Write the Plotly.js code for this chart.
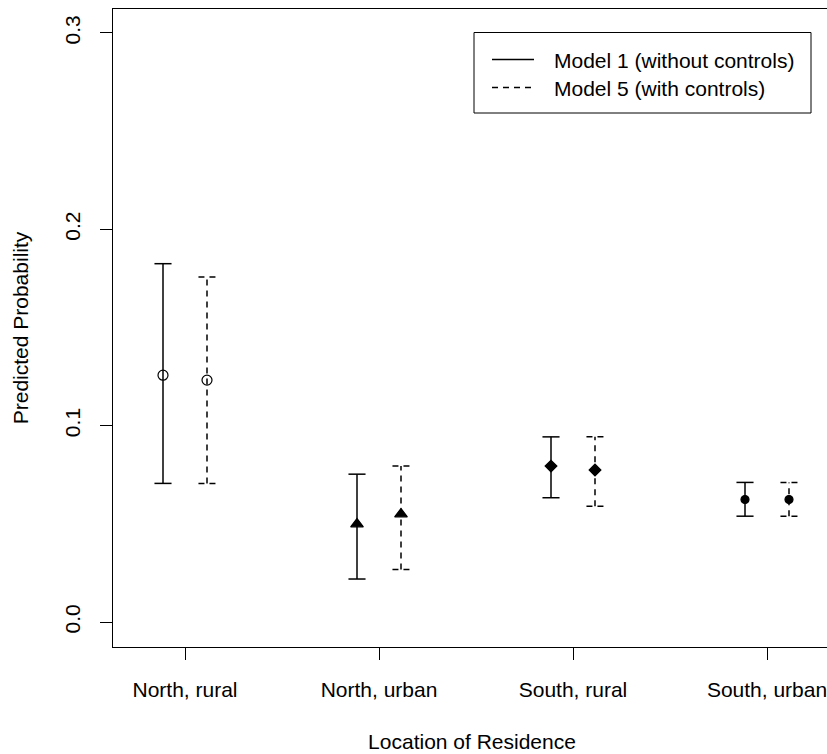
<!DOCTYPE html>
<html>
<head>
<meta charset="utf-8">
<script src="https://cdn.plot.ly/plotly-3.0.1.min.js"></script>
<style>
html, body { margin: 0; padding: 0; overflow: hidden; background: #fff; }
#chart { width: 840px; height: 754px; }
</style>
</head>
<body>
<div id="chart"></div>
<script>
// ---- data ----
var categories = ["North, rural", "North, urban", "South, rural", "South, urban"];
var model1Est   = [0.1257, 0.0499, 0.0794, 0.0624];
var model1Lower = [0.0706, 0.0219, 0.0633, 0.0539];
var model1Upper = [0.1825, 0.0753, 0.0943, 0.0711];
var model5Est   = [0.1232, 0.0550, 0.0774, 0.0624];
var model5Lower = [0.0706, 0.0268, 0.0590, 0.0539];
var model5Upper = [0.1757, 0.0794, 0.0943, 0.0711];
var seriesNames = ["Model 1 (without controls)", "Model 5 (with controls)"];
var yTickVals = [0, 0.1, 0.2, 0.3];
var yTickText = ["0.0", "0.1", "0.2", "0.3"];

// ---- styles ----
var FONT = "Liberation Sans, Arial, Helvetica, sans-serif";
var symbols = ["circle-open", "triangle-up", "diamond", "circle"];
var sizes = [10, 11, 9, 8];
var offset = 0.1134, capHalf = 0.044;
var dashes = ["solid", "6px,5px"];

function barTrace(lo, hi, off, dash) {
  var xs = [], ys = [];
  for (var i = 0; i < categories.length; i++) {
    var xc = i + 1 + off;
    xs.push(xc, xc, null, xc - capHalf, xc + capHalf, null, xc - capHalf, xc + capHalf, null);
    ys.push(lo[i], hi[i], null, hi[i], hi[i], null, lo[i], lo[i], null);
  }
  return { x: xs, y: ys, type: "scatter", mode: "lines", hoverinfo: "skip",
           line: { color: "#000", width: 1.5, dash: dash }, showlegend: false };
}
function pointTrace(est, off, name) {
  return { x: categories.map(function (c, i) { return i + 1 + off; }), y: est,
           type: "scatter", mode: "markers", name: name, showlegend: false,
           text: categories, opacity: 1,
           marker: { color: "#000", opacity: 1, symbol: symbols, size: sizes, line: { color: "#000", width: 1.2 } } };
}

var data = [
  barTrace(model1Lower, model1Upper, -offset, dashes[0]),
  barTrace(model5Lower, model5Upper, offset, dashes[1]),
  pointTrace(model1Est, -offset, seriesNames[0]),
  pointTrace(model5Est, offset, seriesNames[1])
];

// plot area in px: x 113..831, y 9..647
var PL = 113, PR = 831, PT = 9, PB = 647;
function px(x) { return (x - PL) / (PR - PL); }
function py(y) { return (PB - y) / (PB - PT); }

var legendRows = [59.5, 87.5];
var shapes = [{ type: "rect", xref: "paper", yref: "paper", x0: px(474), x1: px(811), y0: py(113), y1: py(32.5),
                line: { color: "#000", width: 1 }, fillcolor: "#fff" }];
var annotations = [];
seriesNames.forEach(function (name, k) {
  shapes.push({ type: "line", xref: "paper", yref: "paper", x0: px(492), x1: px(534),
                y0: py(legendRows[k]), y1: py(legendRows[k]), line: { color: "#000", width: 1.5, dash: dashes[k] } });
  annotations.push({ xref: "paper", yref: "paper", x: px(552), y: py(legendRows[k] + 1.5), xanchor: "left", yanchor: "middle",
                     text: name, showarrow: false, font: { family: FONT, size: 21, color: "#000" } });
});

var layout = {
  width: 840, height: 754,
  margin: { l: PL, r: 840 - PR, t: PT, b: 754 - PB, pad: 0 },
  paper_bgcolor: "#fff", plot_bgcolor: "#fff",
  font: { family: FONT, size: 21, color: "#000" },
  showlegend: false,
  xaxis: {
    range: [1 - (185 - PL) / 194, 4 + (PR - 767) / 194],
    tickvals: [1, 2, 3, 4], ticktext: categories,
    ticks: "outside", ticklen: 12, tickwidth: 1, tickcolor: "#000",
    showline: true, mirror: true, linecolor: "#000", linewidth: 1,
    showgrid: false, zeroline: false, ticklabelstandoff: 12,
    title: { text: "Location of Residence", font: { family: FONT, size: 21, color: "#000" }, standoff: 34 },
    fixedrange: true
  },
  yaxis: {
    range: [-25 / 1965, 0.3 + 24 / 1965],
    tickvals: yTickVals, ticktext: yTickText, tickangle: -90,
    ticks: "outside", ticklen: 12, tickwidth: 1, tickcolor: "#000",
    showline: true, mirror: true, linecolor: "#000", linewidth: 1,
    showgrid: false, zeroline: false, ticklabelstandoff: 12,
    title: { text: "Predicted Probability", font: { family: FONT, size: 21, color: "#000" }, standoff: 26 },
    fixedrange: true
  },
  shapes: shapes,
  annotations: annotations
};

Plotly.newPlot("chart", data, layout, { displayModeBar: false, staticPlot: true });
</script>
</body>
</html>
